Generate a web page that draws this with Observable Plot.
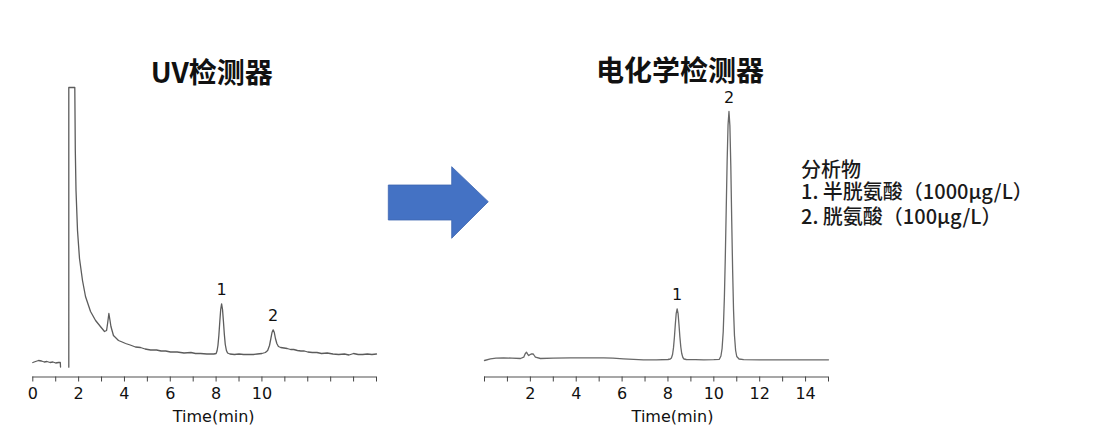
<!DOCTYPE html>
<html>
<head>
<meta charset="utf-8">
<script src="https://cdn.jsdelivr.net/npm/d3@7"></script>
<script src="https://cdn.jsdelivr.net/npm/@observablehq/plot@0.6"></script>
<style>
  html, body { margin: 0; padding: 0; background: #fff; }
  #wrap { position: relative; width: 1096px; height: 440px; overflow: hidden; background: #fff; }
  .title { position: absolute; transform: translate(-50%, -50%); font-family: "Noto Sans CJK SC", sans-serif; font-weight: 700; font-size: 28px; line-height: 1; color: #111; white-space: nowrap; }
  .legend { position: absolute; left: 801px; font-family: "Noto Sans CJK SC", sans-serif; font-weight: 500; font-size: 20px; line-height: 1; color: #1a1a1a; white-space: nowrap; }
  .plot { position: absolute; top: 0; }
  #arrow { position: absolute; left: 0; top: 0; }
</style>
</head>
<body>
<div id="wrap">
  <div class="title" id="t1" style="left:211.7px; top:71px;"></div>
  <div class="title" id="t2" style="left:680px; top:69px;"></div>
  <svg id="arrow" width="1096" height="440"></svg>
  <div class="plot" id="p1" style="left:0px;"></div>
  <div class="plot" id="p2" style="left:440px;"></div>
  <div class="legend" id="lg0" style="top:159px;"></div>
  <div class="legend" id="lg1" style="top:181px;"></div>
  <div class="legend" id="lg2" style="top:206px;"></div>
</div>
<script>
// ---- Text ----
const titles = ["UV检测器", "电化学检测器"];
const legendLines = ["分析物", "1. 半胱氨酸（1000μg/L）", "2. 胱氨酸（100μg/L）"];
const axisLabel = "Time(min)";

// ---- UV detector chromatogram (time in min, signal in arbitrary units) ----
const uvTime = [
  0.00, 0.12, 0.25, 0.38, 0.50, 0.62, 0.75, 0.88, 1.00, 1.12, 1.20, 1.21, 1.40,
  1.571, 1.571, 1.833, 1.855, 1.886, 1.951, 2.038, 2.169, 2.30, 2.52, 2.74, 2.95,
  3.13, 3.22, 3.27, 3.32, 3.37, 3.41, 3.52, 3.74, 3.90, 4.05, 4.25, 4.48, 4.70,
  4.90, 5.14, 5.40, 5.60, 5.80, 6.01, 6.30, 6.60, 6.90, 7.10, 7.32, 7.60, 7.90,
  8.00, 8.04, 8.08, 8.12, 8.16, 8.20, 8.24, 8.28, 8.32, 8.36, 8.40, 8.45, 8.50,
  8.60, 8.80, 9.00, 9.20, 9.40, 9.63, 9.80, 10.00, 10.15, 10.25, 10.33, 10.39,
  10.44, 10.49, 10.54, 10.59, 10.65, 10.72, 10.82, 10.96, 11.10, 11.25, 11.39,
  11.55, 11.70, 11.85, 12.00, 12.20, 12.40, 12.60, 12.85, 13.10, 13.35, 13.60,
  13.80, 14.00, 14.20, 14.40, 14.60, 14.80, 15.00
];
const uvSignal = [
  8, 9, 10, 9.5, 8.5, 9, 8, 8.5, 7.5, 8, 8, 3.5, NaN,
  3.3, 283, 283, 220, 180, 140, 112, 90, 74, 59, 50, 44,
  39, 40, 48, 57, 50, 44, 35, 30, 28.5, 27, 25.5, 23.5, 23,
  21.5, 20.5, 20.5, 19.5, 19.5, 18.5, 18.5, 17.5, 18, 17, 17, 16.5, 16.5,
  17, 19.5, 25, 35, 48.5, 61, 66.7, 61, 49, 36, 26, 20, 17.5,
  16.5, 16, 16.5, 16, 16, 16, 16.5, 17, 18, 20, 25, 32,
  38, 40.7, 38, 32, 27, 24, 23, 22.5, 22, 21, 21,
  20, 19.5, 19.5, 18.5, 18, 18, 17, 17.5, 16.5, 16, 16.5,
  15.5, 17, 16, 16, 16.5, 16, 16.5
];
const uvPeakTime = [8.24, 10.49];
const uvPeakSignal = [66.7, 40.7];
const uvTickLabels = [0, 2, 4, 6, 8, 10];

// ---- Electrochemical detector chromatogram ----
const ecTime = [
  0.00, 0.26, 0.50, 0.83, 1.20, 1.57, 1.71, 1.77, 1.83, 1.89, 1.93, 1.98, 2.04,
  2.12, 2.17, 2.22, 2.44, 3.00, 3.75, 4.50, 5.20, 5.60, 6.06, 6.50, 6.93, 7.50,
  8.00, 8.10, 8.15, 8.20, 8.24, 8.28, 8.32, 8.36, 8.40, 8.44, 8.48, 8.52, 8.56,
  8.60, 8.65, 8.70, 8.80, 9.20, 9.56, 10.00, 10.24, 10.31, 10.36, 10.41, 10.46,
  10.50, 10.54, 10.58, 10.62, 10.66, 10.70, 10.74, 10.78, 10.82, 10.86, 10.90,
  10.95, 11.00, 11.10, 11.30, 12.00, 13.00, 14.00, 15.00
];
const ecSignal = [
  10, 11.7, 12.3, 12.7, 12.3, 12, 13.3, 16.5, 18.3, 16, 15, 15.8, 16.5,
  16.7, 15, 13.3, 12, 12.3, 12.7, 12.7, 12.7, 12.3, 11.7, 11.2, 10.7, 10.7,
  11, 11.5, 12.5, 16, 22.6, 33, 46, 57.2, 61.7, 57.2, 46, 33.5, 23.5,
  17, 13, 11.5, 11, 10.8, 10.7, 10.8, 11.2, 14.5, 22, 39, 73,
  113, 161, 209, 245.6, 259, 245, 205, 150, 100, 60, 35,
  20, 14, 11.5, 10.8, 10.7, 10.7, 10.7, 10.7
];
const ecPeakTime = [8.40, 10.66];
const ecPeakSignal = [61.7, 259];
const ecTickLabels = [2, 4, 6, 8, 10, 12, 14];
const peakNames = ["1", "2"];

// ---- build ----
document.getElementById("t1").textContent = titles[0];
document.getElementById("t2").textContent = titles[1];
legendLines.forEach((s, i) => { document.getElementById("lg" + i).textContent = s; });

const arrowPts = [[388.3,185],[451.7,185],[451.7,166.7],[488.3,201.7],[451.7,238.3],[451.7,220],[388.3,220]];
d3.select("#arrow").append("polygon")
  .attr("points", arrowPts.map(p => p.join(",")).join(" "))
  .attr("fill", "#4472C4").attr("stroke", "#3d66b0").attr("stroke-width", 0.8);

const numFont = "'DejaVu Sans', sans-serif";

function chromatogram({time, signal, peakT, peakV, tickLabels, mLeft, mRight, width, lineColor, labelDx}) {
  const data = time.map((t, i) => ({t, v: signal[i]}));
  const peaks = peakT.map((t, i) => ({t, v: peakV[i], name: peakNames[i]}));
  return Plot.plot({
    width, height: 440,
    marginLeft: mLeft, marginRight: mRight, marginTop: 70, marginBottom: 63.5,
    x: {domain: [0, 15]},
    y: {domain: [-6.5, 300], axis: null},
    style: {fontFamily: numFont, fontSize: "16px", color: "#111", background: "transparent", overflow: "visible"},
    marks: [
      Plot.ruleY([-6.5], {stroke: "#8a8a8a", strokeWidth: 1.4}),
      Plot.axisX({ticks: d3.range(0, 16), tickSize: 5, tickPadding: 5.5, stroke: "#444", fill: "#111",
        tickFormat: d => tickLabels.includes(d) ? String(d) : "", label: null, fontSize: 16}),
      Plot.line(data, {x: "t", y: "v", stroke: lineColor, strokeWidth: 1.3}),
      Plot.text(peaks, {x: "t", y: "v", text: "name", dy: -14, lineAnchor: "middle", fontSize: 16, fill: "#111"}),
      Plot.text([axisLabel], {frameAnchor: "bottom", dy: 40, dx: labelDx, lineAnchor: "middle", fontSize: 16, fill: "#111"})
    ]
  });
}

document.getElementById("p1").append(chromatogram({
  time: uvTime, signal: uvSignal, peakT: uvPeakTime, peakV: uvPeakSignal, tickLabels: uvTickLabels,
  mLeft: 32.3, mRight: 14, width: 390, lineColor: "#5c5c5c", labelDx: 9
}));
document.getElementById("p2").append(chromatogram({
  time: ecTime, signal: ecSignal, peakT: ecPeakTime, peakV: ecPeakSignal, tickLabels: ecTickLabels,
  mLeft: 44, mRight: 12, width: 400, lineColor: "#686868", labelDx: 16
}));
</script>
</body>
</html>
